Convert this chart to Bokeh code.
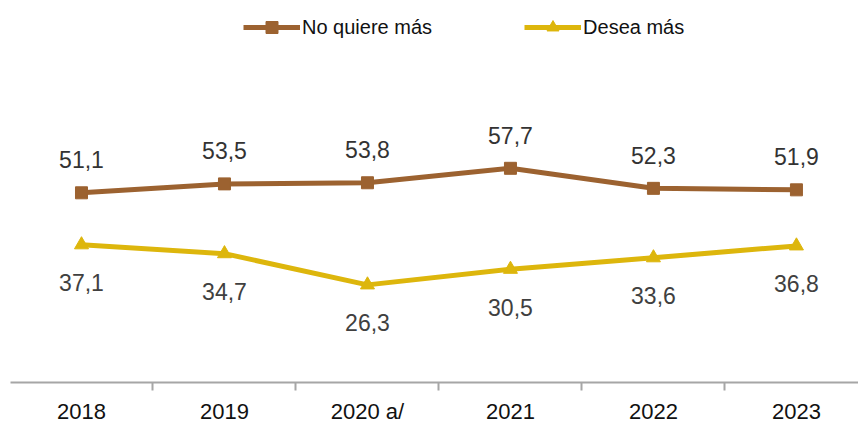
from bokeh.plotting import figure
from bokeh.models import Range1d, FixedTicker, ColumnDataSource, Legend, LegendItem
from bokeh.embed import file_html
from bokeh.resources import INLINE
from bokeh.core.properties import value

years = ["2018", "2019", "2020 a/", "2021", "2022", "2023"]
no_quiere = [51.1, 53.5, 53.8, 57.7, 52.3, 51.9]
desea = [37.1, 34.7, 26.3, 30.5, 33.6, 36.8]

BROWN = "#9C6230"
YELLOW = "#DDB60C"
FONT = "Liberation Sans"

xs = list(range(len(years)))
fmt = lambda v: f"{v:.1f}".replace(".", ",")
src1 = ColumnDataSource(dict(x=xs, y=no_quiere, lab=[fmt(v) for v in no_quiere]))
src2 = ColumnDataSource(dict(x=xs, y=desea, lab=[fmt(v) for v in desea]))

p = figure(width=858, height=426, output_backend="svg", toolbar_location=None,
           x_range=Range1d(-0.4965, 5.434), y_range=Range1d(0, 102.9),
           min_border_left=10, min_border_right=0, min_border_top=0, min_border_bottom=40)
p.outline_line_color = None
p.xgrid.visible = False
p.ygrid.visible = False
p.yaxis.visible = False

l1 = p.line("x", "y", source=src1, color=BROWN, line_width=5)
m1 = p.scatter("x", "y", source=src1, marker="square", size=12, color=BROWN)
l2 = p.line("x", "y", source=src2, color=YELLOW, line_width=5)
m2 = p.scatter("x", "y", source=src2, marker="triangle", size=14, color=YELLOW)

p.text("x", "y", text="lab", source=src1, y_offset=-33, text_align="center",
       text_baseline="middle", text_font=value(FONT), text_font_size="23px",
       text_color="#333333")
p.text("x", "y", text="lab", source=src2, y_offset=38, text_align="center",
       text_baseline="middle", text_font=value(FONT), text_font_size="23px",
       text_color="#404040")

ax = p.xaxis[0]
ax.ticker = FixedTicker(ticks=xs, minor_ticks=[i - 0.5 for i in range(len(years) + 1)])
ax.major_label_overrides = {i: y for i, y in enumerate(years)}
ax.major_tick_line_color = None
ax.major_tick_out = 0
ax.major_tick_in = 0
ax.minor_tick_line_color = "#A6A6A6"
ax.minor_tick_line_width = 2
ax.minor_tick_out = 8
ax.minor_tick_in = 0
ax.axis_line_color = "#A6A6A6"
ax.axis_line_width = 2
ax.major_label_standoff = 8
ax.major_label_text_font = FONT
ax.major_label_text_font_size = "22px"
ax.major_label_text_color = "#111111"

legend = Legend(items=[LegendItem(label="No quiere más", renderers=[l1, m1]),
                       LegendItem(label="Desea más", renderers=[l2, m2])],
                orientation="horizontal", location=(233, 340),
                glyph_width=57, glyph_height=30, label_standoff=2, spacing=92,
                label_text_font=FONT, label_text_font_size="20px",
                label_text_color="#111111", border_line_color=None,
                background_fill_alpha=0, padding=0, margin=0)
p.add_layout(legend)

open("out.html", "w").write(file_html(p, INLINE))
